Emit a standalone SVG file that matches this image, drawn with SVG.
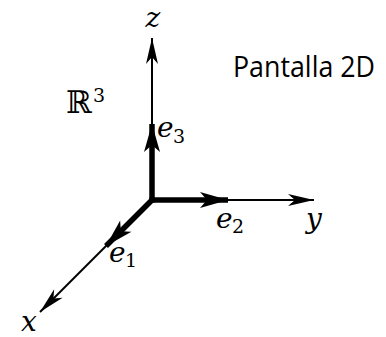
<svg xmlns="http://www.w3.org/2000/svg" width="386" height="337" viewBox="0 0 386 337">
<style>
.thin{stroke:#000;stroke-width:2;fill:none}
.thick{stroke:#000;stroke-width:5.5;fill:none}
.m{font-family:"DejaVu Serif","Liberation Serif",serif;font-style:italic;font-size:28px;fill:#000}
.sub{font-family:"DejaVu Serif","Liberation Serif",serif;font-size:19px;fill:#000}
.lbl{font-family:"Open Sans","Liberation Sans",sans-serif;font-size:29px;fill:#000}
</style>
<defs>
<marker id="ah" markerUnits="userSpaceOnUse" markerWidth="30" markerHeight="14" viewBox="-27 -7 30 14" refX="0" refY="0" orient="auto">
<path d="M0,0 L-26,-6 L-19,0 L-26,6 Z" fill="#000"/>
</marker>
<marker id="ahT" markerUnits="userSpaceOnUse" markerWidth="32" markerHeight="20" viewBox="-30 -10 32 20" refX="0" refY="0" orient="auto">
<path d="M0,0 L-28,-8 L-21,0 L-28,8 Z" fill="#000"/>
</marker>
</defs>
<g id="connectors">
<line class="thin" x1="152" y1="200" x2="152" y2="38" marker-end="url(#ah)"/>
<line class="thin" x1="152" y1="200" x2="314" y2="200" marker-end="url(#ah)"/>
<line class="thin" x1="152" y1="200" x2="40" y2="312" marker-end="url(#ah)"/>
<line class="thick" x1="152" y1="202.5" x2="152" y2="124" marker-end="url(#ahT)"/>
<line class="thick" x1="149.5" y1="200" x2="228" y2="200" marker-end="url(#ahT)"/>
<line class="thick" x1="153" y1="199" x2="106" y2="246" marker-end="url(#ahT)"/>
</g>
<g id="axis-z"><text class="m" x="153" y="27" text-anchor="middle">z</text></g>
<g id="axis-y"><text class="m" x="314" y="228" text-anchor="middle">y</text></g>
<g id="axis-x"><text class="m" x="29" y="331" text-anchor="middle">x</text></g>
<g id="e3"><text class="m" x="157" y="137">e</text><text class="sub" x="173" y="143">3</text></g>
<g id="e2"><text class="m" x="216" y="228">e</text><text class="sub" x="232" y="233">2</text></g>
<g id="e1"><text class="m" x="109" y="262">e</text><text class="sub" x="125" y="267">1</text></g>
<g id="r3"><text x="66" y="113" font-family="DejaVu Serif,serif" font-size="31" fill="#000">ℝ</text><text class="sub" x="93" y="102">3</text></g>
<g id="pantalla"><text class="lbl" x="233" y="77" textLength="142" lengthAdjust="spacingAndGlyphs">Pantalla 2D</text></g>
</svg>
